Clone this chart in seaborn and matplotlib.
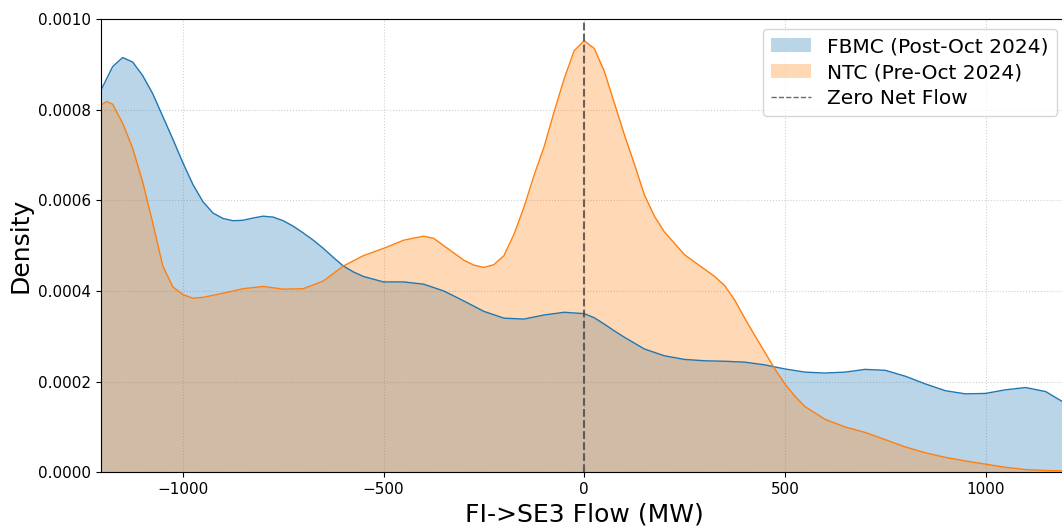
import matplotlib
matplotlib.use("Agg")
import matplotlib.pyplot as plt
import seaborn as sns
import numpy as np
import pandas as pd
from matplotlib.ticker import FormatStrFormatter
from matplotlib.patches import Patch
from matplotlib.lines import Line2D

# ---- data (density curves) ----
fbmc_x = [-1204, -1175, -1150, -1125, -1100, -1075, -1050, -1025, -1000, -975, -950, -925, -900, -875,
          -850, -825, -800, -775, -750, -725, -700, -675, -650, -625, -600, -575, -550, -500, -450, -400,
          -350, -300, -250, -200, -150, -100, -50, 0, 25, 50, 75, 100, 150, 200, 250, 300, 350, 400,
          450, 500, 550, 600, 650, 700, 750, 800, 850, 900, 950, 1000, 1050, 1100, 1150, 1203]
fbmc_y = [0.000843, 0.000895, 0.000915, 0.000905, 0.000875, 0.000835, 0.000785, 0.000735, 0.000683,
          0.000635, 0.000597, 0.000572, 0.000560, 0.000555, 0.000556, 0.000561, 0.000565, 0.000563,
          0.000555, 0.000543, 0.000528, 0.000512, 0.000494, 0.000474, 0.000455, 0.000442, 0.000432,
          0.000420, 0.000420, 0.000415, 0.000400, 0.000378, 0.000355, 0.000340, 0.000338, 0.000347,
          0.000353, 0.000350, 0.000341, 0.000327, 0.000312, 0.000298, 0.000272, 0.000257, 0.000249,
          0.000246, 0.000245, 0.000243, 0.000237, 0.000228, 0.000221, 0.000219, 0.000221, 0.000227,
          0.000225, 0.000212, 0.000195, 0.000180, 0.000173, 0.000174, 0.000182, 0.000187, 0.000178,
          0.000150]

ntc_x = [-1204, -1190, -1175, -1150, -1125, -1100, -1075, -1050, -1025, -1000, -975, -950, -900, -850,
         -800, -750, -700, -650, -600, -550, -500, -450, -400, -375, -350, -300, -275, -250, -225, -200,
         -175, -150, -125, -100, -75, -50, -25, 0, 25, 50, 75, 100, 125, 150, 175, 200, 250, 300, 325,
         350, 375, 400, 425, 450, 475, 500, 525, 550, 600, 650, 700, 750, 800, 850, 900, 950, 1000,
         1050, 1100, 1150, 1203]
ntc_y = [0.000810, 0.000818, 0.000812, 0.000770, 0.000715, 0.000640, 0.000550, 0.000455, 0.000409,
         0.000392, 0.000384, 0.000386, 0.000395, 0.000405, 0.000410, 0.000404, 0.000405, 0.000422,
         0.000455, 0.000478, 0.000494, 0.000512, 0.000521, 0.000516, 0.000500, 0.000468, 0.000457,
         0.000452, 0.000458, 0.000478, 0.000525, 0.000585, 0.000655, 0.000718, 0.000795, 0.000868,
         0.000930, 0.000952, 0.000935, 0.000885, 0.000815, 0.000745, 0.000680, 0.000612, 0.000565,
         0.000530, 0.000480, 0.000448, 0.000432, 0.000412, 0.000380, 0.000340, 0.000302, 0.000265,
         0.000228, 0.000195, 0.000168, 0.000145, 0.000117, 0.000100, 0.000088, 0.000072, 0.000056,
         0.000043, 0.000033, 0.000025, 0.000018, 0.000011, 0.000006, 0.000004, 0.000003]

labels = ["FBMC (Post-Oct 2024)", "NTC (Pre-Oct 2024)", "Zero Net Flow"]
x_ticks = [-1000, -500, 0, 500, 1000]
y_ticks = [0.0, 0.0002, 0.0004, 0.0006, 0.0008, 0.0010]

blue = "#1f77b4"
orange = "#ff7f0e"

fig = plt.figure(figsize=(10.62, 5.29), dpi=100)
ax = fig.add_axes([101 / 1062, 1 - 472.3 / 529, (1067 - 101) / 1062, (472.3 - 19) / 529])

fb = pd.DataFrame({"x": fbmc_x, "y": fbmc_y})
nt = pd.DataFrame({"x": ntc_x, "y": ntc_y})

ax.fill_between(fb["x"], 0, fb["y"], color=blue, alpha=0.3, linewidth=0)
sns.lineplot(data=fb, x="x", y="y", ax=ax, color=blue, linewidth=1.0)
ax.fill_between(nt["x"], 0, nt["y"], color=orange, alpha=0.3, linewidth=0)
sns.lineplot(data=nt, x="x", y="y", ax=ax, color=orange, linewidth=1.0)

ax.axvline(0, color="#444444", linestyle="--", linewidth=1.5, alpha=0.8)

ax.set_xlim(-1204, 1203)
ax.set_ylim(0, 0.0010)
ax.set_xticks(x_ticks)
ax.set_yticks(y_ticks)
ax.yaxis.set_major_formatter(FormatStrFormatter("%.4f"))
ax.tick_params(labelsize=11)
ax.grid(True, linestyle=":", color="#bbbbbb", linewidth=0.8, alpha=0.7)
ax.set_axisbelow(True)

ax.set_xlabel("FI->SE3 Flow (MW)", fontsize=18)
ax.set_ylabel("Density", fontsize=18)

handles = [Patch(facecolor=blue, alpha=0.3, edgecolor="none"),
           Patch(facecolor=orange, alpha=0.3, edgecolor="none"),
           Line2D([0], [0], color="#444444", linestyle="--", linewidth=1.0, alpha=0.8)]
ax.legend(handles, labels, loc="upper right", fontsize=14.5, labelspacing=0.35)

fig.savefig("out.png", dpi=100)
